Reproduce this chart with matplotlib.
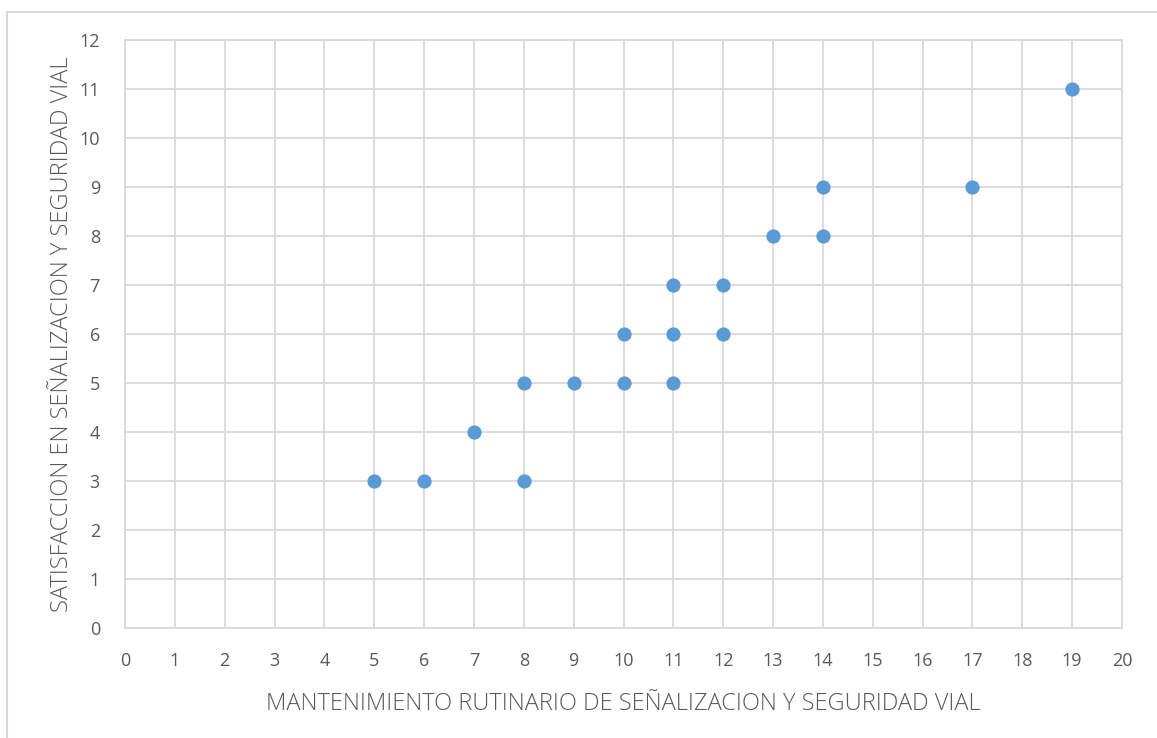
import matplotlib.pyplot as plt
from matplotlib.patches import Rectangle

# datos
mantenimiento = [5, 6, 7, 8, 8, 9, 10, 10, 11, 11, 11, 12, 12, 13, 14, 14, 17, 19]
satisfaccion = [3, 3, 4, 5, 3, 5, 6, 5, 7, 6, 5, 7, 6, 8, 9, 8, 9, 11]
x_label = 'MANTENIMIENTO RUTINARIO DE SEÑALIZACION Y SEGURIDAD VIAL'
y_label = 'SATISFACCION EN SEÑALIZACION Y SEGURIDAD VIAL'

plt.rcParams['font.family'] = ['Open Sans', 'DejaVu Sans']

W, H = 1157, 738
fig = plt.figure(figsize=(W / 100, H / 100), dpi=100)

# marco del gráfico (solo izquierda y arriba visibles)
fig.patches.append(Rectangle((7 / W, -0.1), 1.2, 1 - 12 / H + 0.1, transform=fig.transFigure,
                             fill=False, edgecolor='#d9d9d9', linewidth=1.5))

ax = fig.add_axes([125 / W, 1 - 628 / H, (1122 - 125) / W, (628 - 40) / H])
ax.scatter(mantenimiento, satisfaccion, s=105, color='#5b9bd5', zorder=3, linewidths=0)

ax.set_xlim(0, 20)
ax.set_ylim(0, 12)
ax.set_xticks(range(0, 21))
ax.set_yticks(range(0, 13))
ax.grid(True, color='#d9d9d9', linewidth=1.3)
ax.set_axisbelow(True)
for s in ax.spines.values():
    s.set_color('#d9d9d9')
    s.set_linewidth(1.3)
ax.tick_params(length=0, labelsize=13, colors='#595959', pad=17)
ax.tick_params(axis='y', pad=18)

ax.set_xlabel(x_label, fontsize=17, color='#595959', labelpad=16, fontweight='light')
ax.set_ylabel(y_label, fontsize=17, color='#595959', labelpad=4, fontweight='light')

plt.savefig('out.png', dpi=100)
